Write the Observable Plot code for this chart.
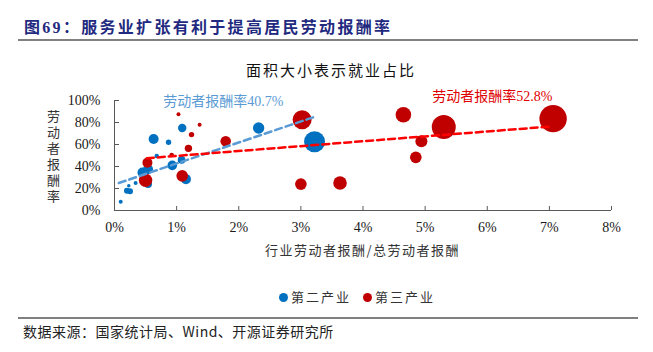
<!DOCTYPE html>
<html><head><meta charset="utf-8">
<script src="https://cdn.jsdelivr.net/npm/d3@7"></script>
<script src="https://cdn.jsdelivr.net/npm/@observablehq/plot@0.6"></script>
<style>
body{margin:0;background:#fff;width:653px;height:352px;position:relative;overflow:hidden;font-family:"Liberation Serif","Noto Sans CJK SC",serif;}
.abs{position:absolute;}
#title{left:24px;top:14px;font-size:16px;letter-spacing:2.3px;font-weight:bold;color:#1F2A80;font-family:"Liberation Serif","Noto Sans CJK SC";white-space:nowrap;}
#rule1{left:18px;top:39px;width:620px;height:2px;background:#808080;}
#subtitle{left:0;width:662px;top:59px;text-align:center;font-size:15px;letter-spacing:2px;color:#111;font-family:"Noto Sans CJK SC";}
#ylabel{left:44px;top:110px;writing-mode:vertical-rl;text-orientation:upright;font-size:13px;letter-spacing:3px;color:#333;font-family:"Noto Sans CJK SC";}
#xlabel{left:114px;width:497px;top:240px;text-align:center;font-size:13px;letter-spacing:1.5px;color:#333;font-family:"Noto Sans CJK SC";}
#legend{left:0;width:714px;top:287px;text-align:center;font-size:13px;color:#333;font-family:"Noto Sans CJK SC";letter-spacing:2px;}
#legend span.dot{display:inline-block;width:9px;height:9px;border-radius:50%;margin-right:3px;vertical-align:0px;}
#legend span.item{margin:0 6px;}
#rule2{left:18px;top:317px;width:620px;height:2px;background:#808080;}
#source{left:23px;top:321px;font-size:14px;letter-spacing:0.5px;color:#222;font-family:"Noto Sans CJK SC";white-space:nowrap;}
#chart{left:0;top:80px;}
</style></head>
<body>
<div id="title" class="abs">图69：服务业扩张有利于提高居民劳动报酬率</div>
<div id="rule1" class="abs"></div>
<div id="subtitle" class="abs">面积大小表示就业占比</div>
<div id="ylabel" class="abs">劳动者报酬率</div>
<div id="chart" class="abs"></div>
<div id="xlabel" class="abs">行业劳动者报酬/总劳动者报酬</div>
<div id="legend" class="abs"></div>
<div id="rule2" class="abs"></div>
<div id="source" class="abs">数据来源：国家统计局、Wind、开源证券研究所</div>
<script>
// Tick values
const xTicks = [0, 1, 2, 3, 4, 5, 6, 7, 8];
const yTicks = [0, 20, 40, 60, 80, 100];

// 第二产业 (secondary industry): share of total compensation (%), compensation rate (%), employment share
const secX = [0.10, 0.20, 0.25, 0.23, 0.34, 0.45, 0.54, 0.54, 0.63, 0.68, 0.87, 0.93, 1.08, 1.09, 1.15, 2.32, 3.22];
const secY = [8, 18, 17.5, 22.5, 25, 34.5, 37.5, 24, 65, 49.5, 62, 41, 46, 75, 28.5, 75, 62.5];
const secS = [0.4, 0.9, 0.9, 0.3, 0.4, 2.55, 2.55, 1.6, 2.55, 0.5, 0.75, 2.35, 1.5, 1.8, 2.55, 3.3, 11.2];

// 第三产业 (tertiary industry)
const terX = [0.53, 0.50, 0.92, 1.03, 1.09, 1.19, 1.24, 1.37, 1.79, 3.02, 3.00, 3.63, 4.65, 4.94, 4.85, 5.30, 7.06];
const terY = [43.5, 27.5, 50.5, 87.5, 31.5, 56.5, 69, 78, 63, 82.5, 24, 25, 87, 63, 48.3, 76, 83.5];
const terS = [2.55, 4.6, 0.55, 0.4, 3.45, 1.4, 0.75, 0.4, 2.85, 9.2, 3.45, 4.7, 6.2, 3.7, 3.45, 14.7, 19.2];

// Trend lines
const secTrendX = [0.07, 3.24];
const secTrendY = [25, 85.5];
const terTrendX = [0.52, 7.05];
const terTrendY = [47.5, 76.5];

// Annotations
const annText = ["劳动者报酬率40.7%", "劳动者报酬率52.8%"];
const annX = [1.75, 6.08];
const annY = [99, 103.6];

const seriesNames = ["第二产业", "第三产业"];
const colors = ["#0070C0", "#C00000"];

const sec = secX.map((x, i) => ({x, y: secY[i], s: secS[i]}));
const ter = terX.map((x, i) => ({x, y: terY[i], s: terS[i]}));
const secTrend = secTrendX.map((x, i) => ({x, y: secTrendY[i]}));
const terTrend = terTrendX.map((x, i) => ({x, y: terTrendY[i]}));
const ann = annText.map((t, i) => ({t, x: annX[i], y: annY[i], c: i}));

const axisColor = "#595959";
const plot = Plot.plot({
  width: 653, height: 180,
  marginLeft: 114, marginRight: 42, marginTop: 20, marginBottom: 50,
  style: {fontFamily: "'Liberation Serif','Noto Sans CJK SC',serif", fontSize: "14px", color: "#1a1a1a", background: "transparent", overflow: "visible"},
  x: {domain: [0, 8]},
  y: {domain: [0, 100]},
  r: {type: "sqrt", domain: [0, 20], range: [0, 14]},
  marks: [
    Plot.axisX({ticks: xTicks, tickFormat: d => d + "%", tickSize: -4, tickPadding: 16, label: null, stroke: axisColor}),
    Plot.axisY({ticks: yTicks, tickFormat: d => d + "%", tickSize: -5, tickPadding: 19, label: null, stroke: axisColor}),
    Plot.ruleY([0], {stroke: axisColor}),
    Plot.ruleX([0], {stroke: axisColor}),
    Plot.dot(sec, {x: "x", y: "y", r: "s", fill: colors[0]}),
    Plot.dot(ter, {x: "x", y: "y", r: "s", fill: colors[1]}),
    Plot.line(secTrend, {x: "x", y: "y", stroke: "#5B9BD5", strokeWidth: 2.5, strokeDasharray: "7,4"}),
    Plot.line(terTrend, {x: "x", y: "y", stroke: "#FF0000", strokeWidth: 2.5, strokeDasharray: "7,4"}),
    Plot.text(ann, {x: "x", y: "y", text: "t", fill: d => d.c === 0 ? "#5B9BD5" : "#E00000", fontSize: 14, fontFamily: "'Liberation Serif','Noto Sans CJK SC',serif"})
  ]
});
document.getElementById("chart").appendChild(plot);

const legend = document.getElementById("legend");
legend.innerHTML = seriesNames.map((n, i) => `<span class="item"><span class="dot" style="background:${colors[i]}"></span>${n}</span>`).join("");
</script>
</body></html>
